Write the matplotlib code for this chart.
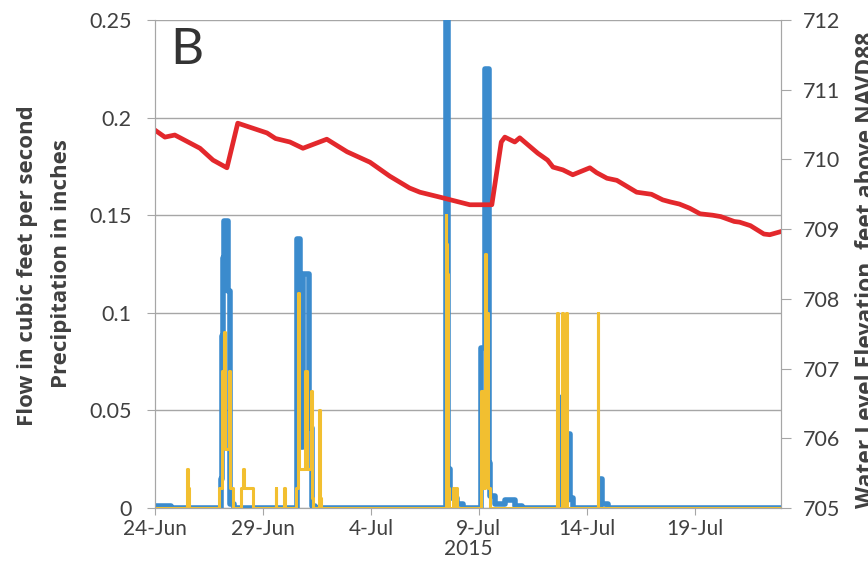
import pandas as pd
import matplotlib
matplotlib.use("Agg")
import matplotlib.pyplot as plt
import matplotlib.dates as mdates
from matplotlib.transforms import offset_copy

# Flow (cfs), hourly change points, drawn as steps
flow_time = ['2015-06-24 00:00', '2015-06-24 18:00', '2015-06-27 01:00', '2015-06-27 03:00',
             '2015-06-27 04:00', '2015-06-27 05:00', '2015-06-27 09:00', '2015-06-27 11:00',
             '2015-06-27 16:00', '2015-06-30 14:00', '2015-06-30 17:00', '2015-06-30 21:00',
             '2015-07-01 03:00', '2015-07-01 06:00', '2015-07-01 10:00', '2015-07-07 11:00',
             '2015-07-07 12:00', '2015-07-07 14:00', '2015-07-07 16:00', '2015-07-08 00:00',
             '2015-07-08 06:00', '2015-07-09 03:00', '2015-07-09 07:00', '2015-07-09 11:00',
             '2015-07-09 13:00', '2015-07-09 18:00', '2015-07-10 05:00', '2015-07-10 16:00',
             '2015-07-11 00:00', '2015-07-12 20:00', '2015-07-12 22:00', '2015-07-13 03:00',
             '2015-07-13 05:00', '2015-07-13 09:00', '2015-07-14 15:00', '2015-07-14 17:00',
             '2015-07-15 00:00', '2015-07-23 00:00']
flow_cfs = [0.001, 0.0, 0.015, 0.088,
            0.128, 0.147, 0.111, 0.002,
            0.0, 0.138, 0.031, 0.120,
            0.041, 0.001, 0.0, 0.21,
            0.30, 0.02, 0.005, 0.002,
            0.0, 0.082, 0.225, 0.023,
            0.006, 0.002, 0.004, 0.001,
            0.0, 0.057, 0.004, 0.038,
            0.005, 0.0, 0.015, 0.002,
            0.0, 0.0]

# Precipitation (inches)
precip_time = ['2015-06-24 00:00', '2015-06-25 12:00', '2015-06-25 13:00', '2015-06-25 14:00',
               '2015-06-26 23:00', '2015-06-27 03:00', '2015-06-27 05:00', '2015-06-27 06:00',
               '2015-06-27 10:00', '2015-06-27 11:00', '2015-06-27 15:00', '2015-06-28 00:00',
               '2015-06-28 02:00', '2015-06-28 03:00', '2015-06-28 13:00', '2015-06-29 14:00',
               '2015-06-29 15:00', '2015-06-29 23:00', '2015-06-30 01:00', '2015-06-30 13:00',
               '2015-06-30 15:00', '2015-06-30 16:00', '2015-06-30 23:00', '2015-07-01 01:00',
               '2015-07-01 05:00', '2015-07-01 06:00', '2015-07-01 08:00', '2015-07-01 14:00',
               '2015-07-01 15:00', '2015-07-01 17:00', '2015-07-07 11:00', '2015-07-07 12:00',
               '2015-07-07 13:00', '2015-07-07 14:00', '2015-07-07 15:00', '2015-07-07 19:00',
               '2015-07-07 20:00', '2015-07-07 23:00', '2015-07-08 00:00', '2015-07-09 02:00',
               '2015-07-09 03:00', '2015-07-09 05:00', '2015-07-09 07:00', '2015-07-09 08:00',
               '2015-07-09 10:00', '2015-07-09 12:00', '2015-07-12 15:00', '2015-07-12 16:00',
               '2015-07-12 21:00', '2015-07-12 22:00', '2015-07-13 01:00', '2015-07-13 02:00',
               '2015-07-14 12:00', '2015-07-14 13:00', '2015-07-23 00:00']
precip_in = [0, 0.02, 0.01, 0,
             0.01, 0.07, 0.09, 0.03,
             0.07, 0.01, 0, 0.01,
             0.02, 0.01, 0, 0.01,
             0, 0.01, 0, 0.01,
             0.11, 0.02, 0.07, 0.02,
             0.06, 0.005, 0, 0.05,
             0.005, 0, 0.15, 0.135,
             0.12, 0.01, 0, 0.01,
             0, 0.01, 0, 0.01,
             0.06, 0.01, 0.13, 0.1,
             0.01, 0, 0.1, 0,
             0.1, 0, 0.1, 0,
             0.1, 0, 0]

# Water level elevation (ft above NAVD88)
level_time = ['2015-06-24 00:00', '2015-06-24 11:00', '2015-06-24 22:00', '2015-06-25 04:00',
              '2015-06-26 02:00', '2015-06-26 16:30', '2015-06-27 08:00', '2015-06-27 20:00',
              '2015-06-29 04:30', '2015-06-29 14:00', '2015-06-30 06:00', '2015-06-30 20:30',
              '2015-07-01 23:00', '2015-07-02 21:30', '2015-07-03 23:00', '2015-07-04 21:00',
              '2015-07-05 19:00', '2015-07-06 06:30', '2015-07-07 04:30', '2015-07-08 14:00',
              '2015-07-09 14:30', '2015-07-10 01:00', '2015-07-10 05:00', '2015-07-10 16:00',
              '2015-07-10 21:30', '2015-07-11 17:30', '2015-07-12 04:30', '2015-07-12 10:30',
              '2015-07-12 21:30', '2015-07-13 08:30', '2015-07-14 03:30', '2015-07-14 11:00',
              '2015-07-14 22:30', '2015-07-15 09:30', '2015-07-16 07:30', '2015-07-17 00:00',
              '2015-07-17 12:30', '2015-07-17 21:00', '2015-07-18 07:00', '2015-07-18 18:30',
              '2015-07-19 06:00', '2015-07-19 20:00', '2015-07-20 05:00', '2015-07-20 20:00',
              '2015-07-21 02:00', '2015-07-21 14:00', '2015-07-22 05:00', '2015-07-22 11:30',
              '2015-07-22 22:30']
level_ft = [710.42, 710.32, 710.35, 710.31,
            710.16, 709.99, 709.88, 710.52,
            710.38, 710.30, 710.25, 710.16,
            710.29, 710.11, 709.96, 709.76,
            709.59, 709.53, 709.46, 709.35,
            709.35, 710.25, 710.32, 710.25,
            710.31, 710.09, 709.99, 709.89,
            709.85, 709.78, 709.88, 709.81,
            709.73, 709.70, 709.53, 709.50,
            709.42, 709.39, 709.36, 709.30,
            709.22, 709.20, 709.18, 709.11,
            709.10, 709.05, 708.93, 708.92,
            708.96]

x_ticks = pd.date_range('2015-06-24', '2015-07-19', freq='5D')
flow_time = pd.to_datetime(flow_time)
precip_time = pd.to_datetime(precip_time)
level_time = pd.to_datetime(level_time)

plt.rcParams['font.family'] = ['Lato', 'DejaVu Sans']
bold_font = ['Open Sans', 'DejaVu Sans']

fig = plt.figure(figsize=(8.68, 5.66), dpi=100)
ax = fig.add_axes([155/868, 1 - 508/566, (781 - 155)/868, (508 - 20)/566])
ax2 = ax.twinx()

gray = '#a6a6a6'
txt = '#404040'
ax.grid(axis='y', color=gray, lw=1)
ax.set_axisbelow(True)

# flow, green zero series (slightly under), then precipitation
ax.plot(flow_time, flow_cfs, drawstyle='steps-post', color='#3b8bcd', lw=4, zorder=3)
green_tr = offset_copy(ax.transData, fig=fig, x=0, y=-1.5, units='dots')
ax.plot([pd.Timestamp('2015-06-24'), pd.Timestamp('2015-07-23')], [0, 0], color='#a3c27a',
        lw=2.2, zorder=3.5, transform=green_tr)
ax.plot(precip_time, precip_in, drawstyle='steps-post', color='#f2bf30', lw=2.2, zorder=4)

ax2.plot(level_time, level_ft, color='#e3282c', lw=3.4)

ax.set_xlim(pd.Timestamp('2015-06-24'), pd.Timestamp('2015-07-23'))
ax.set_ylim(0, 0.25)
ax2.set_ylim(705, 712)

ax.set_yticks([0, 0.05, 0.1, 0.15, 0.2, 0.25])
ax.set_yticklabels(['0', '0.05', '0.1', '0.15', '0.2', '0.25'])
ax2.set_yticks(range(705, 713))
ax.set_xticks(x_ticks)
ax.xaxis.set_major_formatter(mdates.DateFormatter('%-d-%b'))

for a in (ax, ax2):
    for s in a.spines.values():
        s.set_color(gray)
    a.spines['top'].set_visible(False)

ax.tick_params(axis='y', length=6, color=gray, labelsize=15.5, labelcolor=txt, pad=11)
ax.tick_params(axis='x', length=5, color=gray, labelsize=15, labelcolor=txt, pad=3)
ax2.tick_params(axis='y', length=7, color=gray, labelsize=15.5, labelcolor=txt, pad=9)

ax.set_xlabel('2015', fontsize=15, color=txt, labelpad=0)

fig.text(28/868, 1 - 266/566, 'Flow in cubic feet per second', rotation=90, ha='center', va='center',
         fontsize=16, fontweight='bold', color=txt, family=bold_font)
fig.text(62/868, 1 - 264/566, 'Precipitation in inches', rotation=90, ha='center', va='center',
         fontsize=16, fontweight='bold', color=txt, family=bold_font)
fig.text(855/868, 1 - 270/566, 'Water Level Elevation, feet above NAVD88', rotation=90, ha='left',
         va='center', fontsize=16.5, fontweight='bold', color=txt, family=bold_font)

ax.text(0.024, 0.985, 'B', transform=ax.transAxes, ha='left', va='top', fontsize=37, color='#333333')

fig.savefig('out.png', dpi=100)
